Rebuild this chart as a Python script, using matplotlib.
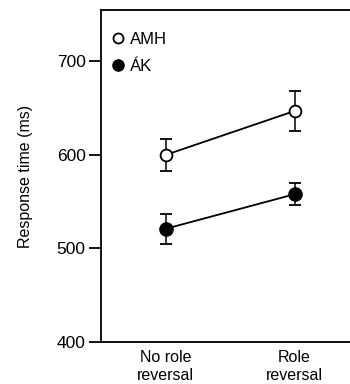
import matplotlib.pyplot as plt
import numpy as np

plt.rcParams['font.family'] = ['Liberation Sans', 'DejaVu Sans']
plt.rcParams['font.size'] = 11

conditions = ['No role\nreversal', 'Role\nreversal']
amh_mean = [600, 647]
amh_err = [17, 21]
ak_mean = [521, 558]
ak_err = [16, 12]

x = np.arange(len(conditions))

fig = plt.figure(figsize=(3.5, 3.84), dpi=100)
ax = fig.add_axes([101 / 350, 42 / 384, 1 - 101 / 350, 332 / 384])

ax.errorbar(x, amh_mean, yerr=amh_err, color='black', lw=1.3, marker='o',
            ms=8.5, mfc='white', mec='black', mew=1.3, capsize=4.5,
            capthick=1.3, elinewidth=1.1, label='AMH')
ax.errorbar(x, ak_mean, yerr=ak_err, color='black', lw=1.3, marker='o',
            ms=9.5, mfc='black', mec='black', capsize=4.5,
            capthick=1.3, elinewidth=1.1, label='ÁK')

ax.set_xlim(-0.5, 1.43)
ax.set_ylim(400, 755)
ax.set_yticks([400, 500, 600, 700])
ax.set_xticks(x)
ax.set_xticklabels(conditions, fontsize=11.5)
ax.tick_params(axis='x', length=0, pad=6)
ax.tick_params(axis='y', length=9, width=1.3, direction='out', pad=2,
               labelsize=12.5)
ax.set_ylabel('Response time (ms)', labelpad=17, fontsize=11.5)

ax.spines['right'].set_visible(False)
for s in ['left', 'top', 'bottom']:
    ax.spines[s].set_linewidth(1.3)

handles, labels = ax.get_legend_handles_labels()
handles = [h[0] for h in handles]
ax.legend(handles, labels, loc='upper left', bbox_to_anchor=(-0.036, 1.0),
          frameon=False, handlelength=0.5, handletextpad=0.5,
          labelspacing=0.75, borderaxespad=0.9, fontsize=12,
          markerscale=0.85)

plt.savefig('out.png', dpi=100)
